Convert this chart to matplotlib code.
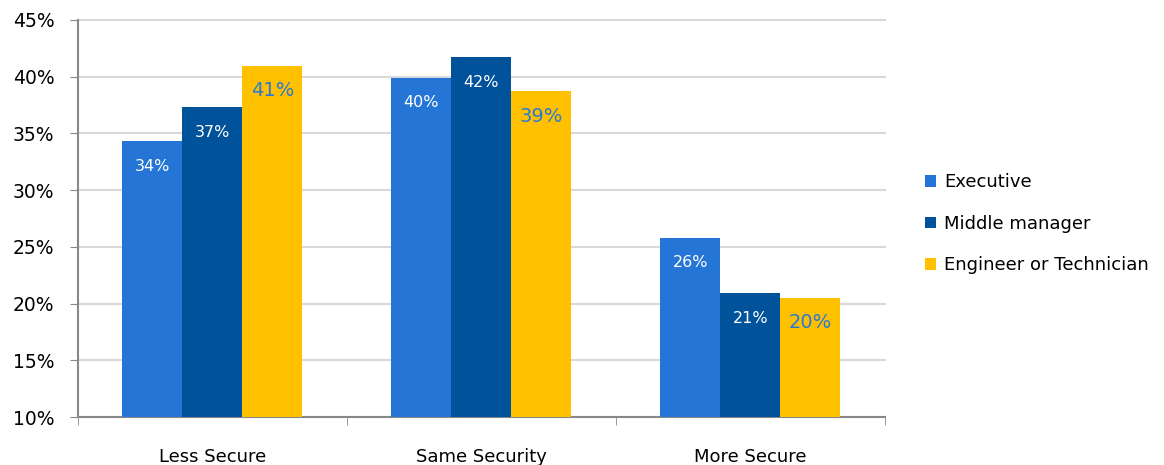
import numpy as np
import matplotlib.pyplot as plt

# data
categories = ["Less Secure", "Same Security", "More Secure"]
series_names = ["Executive", "Middle manager", "Engineer or Technician"]
executive = [34.3, 39.9, 25.8]
middle_manager = [37.3, 41.7, 20.9]
engineer = [40.95, 38.7, 20.5]
value_labels = [
    ["34%", "40%", "26%"],
    ["37%", "42%", "21%"],
    ["41%", "39%", "20%"],
]
y_ticks = [10, 15, 20, 25, 30, 35, 40, 45]

colors = ["#2475D6", "#00529B", "#FFC000"]
label_colors = ["white", "white", "#2A7AD5"]
label_sizes = [11.5, 11.5, 14]

fig = plt.figure(figsize=(11.64, 4.65), dpi=100)
ax = fig.add_axes([0.067, 0.103, 0.693, 0.854])

x = np.arange(len(categories))
width = 0.223
all_series = [executive, middle_manager, engineer]

for i, values in enumerate(all_series):
    pos = x + (i - 1) * width
    bars = ax.bar(pos, np.array(values) - 10, width=width, bottom=10,
                  color=colors[i], label=series_names[i], zorder=3)
    for b, lab in zip(bars, value_labels[i]):
        ax.annotate(lab, (b.get_x() + b.get_width() / 2, b.get_y() + b.get_height()),
                    xytext=(0, -25), textcoords="offset pixels",
                    ha="center", va="center", color=label_colors[i],
                    fontsize=label_sizes[i], zorder=4)

ax.set_xlim(-0.5, 2.5)
ax.set_ylim(10, 45)
ax.set_yticks(y_ticks)
ax.set_yticklabels([f"{t}%" for t in y_ticks], fontsize=13.5)
ax.yaxis.grid(True, color="#D9D9D9", linewidth=1.5, zorder=0)
ax.set_axisbelow(True)
for line in ax.get_ygridlines():
    line.set_clip_on(False)

ax.set_xticks(x)
ax.set_xticklabels(categories, fontsize=13)
ax.set_xticks([-0.5, 0.5, 1.5, 2.5], minor=True)
ax.tick_params(axis="x", which="major", length=0, pad=22)
ax.tick_params(axis="x", which="minor", length=6, color="#888888")
ax.tick_params(axis="y", length=6, color="#888888", pad=11)

for side in ["top", "right"]:
    ax.spines[side].set_visible(False)
ax.spines["left"].set_color("#888888")
ax.spines["bottom"].set_color("#888888")
ax.spines["left"].set_linewidth(1.5)
ax.spines["bottom"].set_linewidth(1.5)

ax.legend(loc="center left", bbox_to_anchor=(1.03, 0.487), frameon=False,
          fontsize=13, handlelength=0.6, handleheight=0.6,
          handletextpad=0.45, labelspacing=1.3)

plt.savefig("out.png", dpi=100)
plt.close()
